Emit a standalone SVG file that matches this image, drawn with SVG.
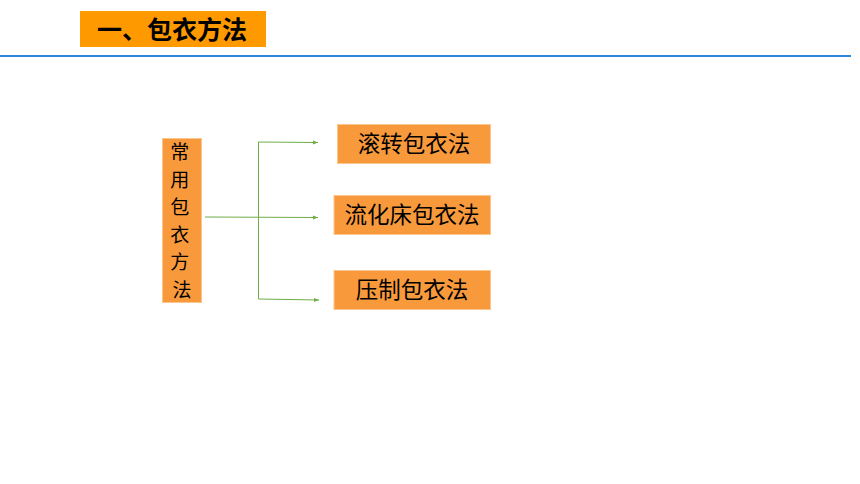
<svg xmlns="http://www.w3.org/2000/svg" width="860" height="484" viewBox="0 0 860 484">
<defs>
<style>
.t{font-family:"Noto Sans CJK SC","Liberation Sans",sans-serif;fill:#000}
.box{fill:#F89A3C;stroke:#FBC58E;stroke-width:1}
.c{stroke:#70AD47;stroke-width:1;fill:none}
</style>
<marker id="ar" markerWidth="6" markerHeight="6" refX="5" refY="3" orient="auto" markerUnits="userSpaceOnUse">
<path d="M0,1 L5,3 L0,5 Z" fill="#70AD47"/>
</marker>
</defs>
<rect width="860" height="484" fill="#fff"/>
<g id="title">
<rect x="80" y="11" width="186" height="36" fill="#FF9900"/>
<text class="t" x="97" y="38.5" font-size="25" font-weight="bold">一、包衣方法</text>
</g>
<line x1="0" y1="56" x2="851" y2="56" stroke="#2E86D6" stroke-width="2"/>
<g id="root">
<rect class="box" x="162.5" y="138.5" width="39" height="164"/>
<text class="t" font-size="19" text-anchor="middle">
<tspan x="182" y="159">常</tspan>
<tspan x="182" y="187">用</tspan>
<tspan x="182" y="214">包</tspan>
<tspan x="182" y="242">衣</tspan>
<tspan x="182" y="269">方</tspan>
<tspan x="182" y="297">法</tspan>
</text>
</g>
<g id="connectors">
<path class="c" d="M205,217 L318,217.5" marker-end="url(#ar)"/>
<path class="c" d="M258.5,142 L258.5,299"/>
<path class="c" d="M258.5,142 L318,142.5" marker-end="url(#ar)"/>
<path class="c" d="M258.5,299 L319,300" marker-end="url(#ar)"/>
</g>
<g id="n1">
<rect class="box" x="337.5" y="124.5" width="153" height="39"/>
<text class="t" x="414" y="152" font-size="22.5" text-anchor="middle">滚转包衣法</text>
</g>
<g id="n2">
<rect class="box" x="334" y="195.5" width="156.5" height="39"/>
<text class="t" x="412" y="223" font-size="22.5" text-anchor="middle">流化床包衣法</text>
</g>
<g id="n3">
<rect class="box" x="334" y="270.5" width="156.5" height="39"/>
<text class="t" x="412" y="298" font-size="22.5" text-anchor="middle">压制包衣法</text>
</g>
</svg>
